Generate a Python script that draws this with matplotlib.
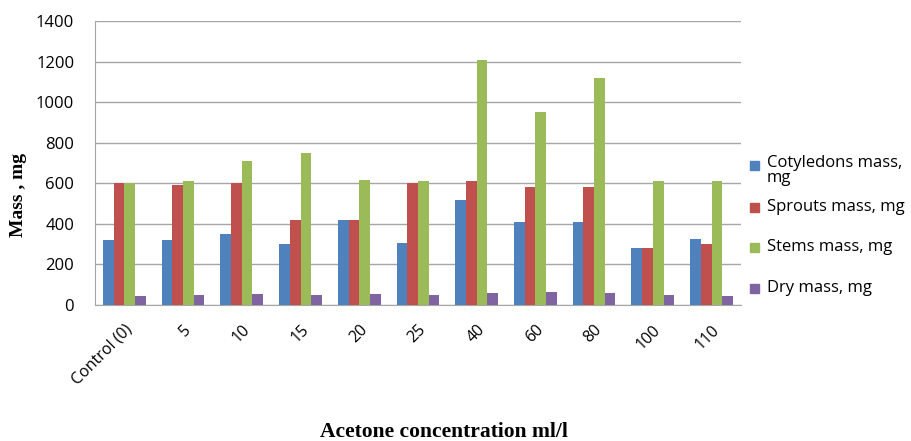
import matplotlib
matplotlib.use("Agg")
import matplotlib.pyplot as plt
from matplotlib.patches import Rectangle
import numpy as np

# Data
categories = ['Control (0)', '5', '10', '15', '20', '25', '40', '60', '80', '100', '110']
cotyledons = [320, 320, 350, 300, 420, 305, 520, 410, 410, 280, 325]
sprouts = [600, 590, 600, 420, 420, 600, 610, 580, 580, 280, 300]
stems = [600, 610, 710, 750, 615, 610, 1210, 950, 1120, 610, 610]
dry = [46, 51, 54, 51, 54, 51, 59, 64, 59, 51, 46]

series_labels = ['Cotyledons mass,\nmg', 'Sprouts mass, mg', 'Stems mass, mg', 'Dry mass, mg']
colors = ['#4F81BD', '#C0504D', '#9BBB59', '#8064A2']

fig = plt.figure(figsize=(9.11, 4.41), dpi=100)
ax = fig.add_axes([0.1043, 0.3084, 0.709, 0.644])

x = np.arange(len(categories))
w = 0.182
for i, vals in enumerate([cotyledons, sprouts, stems, dry]):
    ax.bar(x + (i - 1.5) * w, vals, width=w, color=colors[i], zorder=3)

ax.set_xlim(-0.5, len(categories) - 0.5)
ax.set_ylim(0, 1400)
ax.set_yticks(range(0, 1401, 200))
ax.yaxis.grid(True, color='#a6a6a6', linewidth=1, zorder=0)
for s in ['top', 'right']:
    ax.spines[s].set_visible(False)
for s in ['left', 'bottom']:
    ax.spines[s].set_color('#a6a6a6')
ax.tick_params(axis='y', length=0, labelsize=12, pad=15)
ax.tick_params(axis='x', length=0, labelsize=11.5, pad=12)
ax.set_xticks(x)
ax.set_xticklabels(categories, rotation=45, ha='right', va='top',
                   rotation_mode='anchor', family='Open Sans')
for lab in ax.get_yticklabels():
    lab.set_family('Open Sans')

fig.text(0.02, 0.558, 'Mass , mg', rotation=90, ha='center', va='center',
         family='Liberation Serif', weight='bold', fontsize=14)
fig.text(0.487, 0.02, 'Acetone concentration ml/l', ha='center', va='center',
         family='Liberation Serif', weight='bold', fontsize=15.5)

# legend drawn by hand so the wrapped first label overlaps like the original
ys = [165, 207, 247, 288]
for i, lab in enumerate(series_labels):
    yc = 1 - ys[i] / 441
    fig.patches.append(Rectangle((750 / 911, yc - 4.5 / 441), 9 / 911, 9 / 441,
                                 transform=fig.transFigure, color=colors[i]))
    fig.text(767 / 911, yc, lab, ha='left', va='top' if '\n' in lab else 'center',
             family='Open Sans', fontsize=12, linespacing=0.95)
# fix first label so its first line is centred on the square
fig.texts[-4].set_y(1 - (ys[0] - 10) / 441)

fig.savefig('out.png', dpi=100)
